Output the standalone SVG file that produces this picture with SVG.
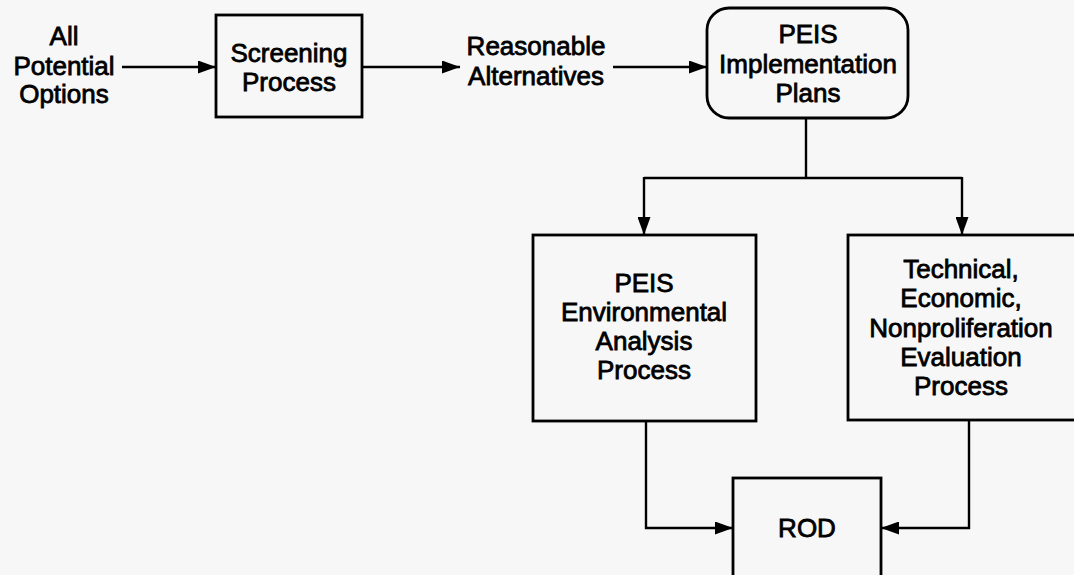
<svg xmlns="http://www.w3.org/2000/svg" width="1074" height="575" viewBox="0 0 1074 575">
  <defs>
    <marker id="arrow" markerUnits="userSpaceOnUse" markerWidth="18" markerHeight="13" refX="18" refY="6.5" orient="auto">
      <path d="M0,0 L18,6.5 L0,13 z" fill="#000"/>
    </marker>
    <style>
      .bg { fill: #f7f7f7; }
      .box { fill: none; stroke: #000; stroke-width: 2.8; }
      .wire { fill: none; stroke: #000; stroke-width: 2.4; }
      .arrow { marker-end: url(#arrow); }
      text { font-family: "Liberation Sans", Arial, Helvetica, sans-serif; font-size: 26px; fill: #000; stroke: #000; stroke-width: 0.8; text-anchor: middle; }
    </style>
  </defs>

  <rect class="bg" x="0" y="0" width="1074" height="575"/>

  <!-- Connectors -->
  <g id="connectors">
    <line class="wire arrow" x1="122" y1="67" x2="216" y2="67"/>
    <line class="wire arrow" x1="362" y1="67" x2="460" y2="67"/>
    <line class="wire arrow" x1="613" y1="67" x2="707" y2="67"/>
    <line class="wire" x1="806" y1="118" x2="806" y2="178"/>
    <line class="wire" x1="644" y1="178" x2="962" y2="178"/>
    <line class="wire arrow" x1="644" y1="177" x2="644" y2="235"/>
    <line class="wire arrow" x1="962" y1="177" x2="962" y2="235"/>
    <polyline class="wire arrow" points="646,421 646,528 733,528"/>
    <polyline class="wire arrow" points="969,420 969,528 881,528"/>
  </g>

  <!-- Starting options label -->
  <g id="all-options">
    <text x="64" y="45">All</text>
    <text x="64" y="75">Potential</text>
    <text x="64" y="103">Options</text>
  </g>

  <g id="screening">
    <rect class="box" x="216" y="15" width="146" height="102"/>
    <text x="289" y="62">Screening</text>
    <text x="289" y="91">Process</text>
  </g>

  <g id="alternatives">
    <text x="536" y="55">Reasonable</text>
    <text x="536" y="85">Alternatives</text>
  </g>

  <g id="implementation-plans">
    <rect class="box" x="707" y="8" width="201" height="110" rx="22" ry="22"/>
    <text x="808" y="43">PEIS</text>
    <text x="808" y="73">Implementation</text>
    <text x="808" y="102">Plans</text>
  </g>

  <g id="environmental-analysis">
    <rect class="box" x="533" y="235" width="223" height="186"/>
    <text x="644" y="292">PEIS</text>
    <text x="644" y="321">Environmental</text>
    <text x="644" y="350">Analysis</text>
    <text x="644" y="379">Process</text>
  </g>

  <g id="technical-evaluation">
    <rect class="box" x="848" y="235" width="228" height="185"/>
    <text x="961" y="278">Technical,</text>
    <text x="961" y="307">Economic,</text>
    <text x="961" y="337">Nonproliferation</text>
    <text x="961" y="366">Evaluation</text>
    <text x="961" y="395">Process</text>
  </g>

  <g id="rod">
    <rect class="box" x="733" y="478" width="148" height="120"/>
    <text x="807" y="537">ROD</text>
  </g>
</svg>
